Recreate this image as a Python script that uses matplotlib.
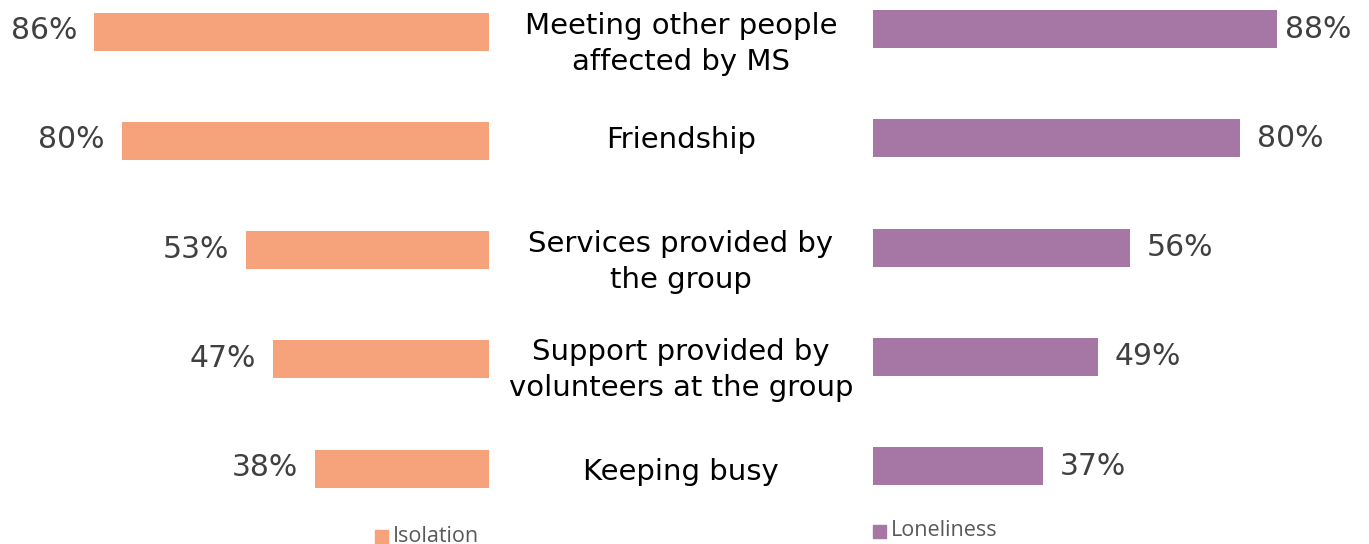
import matplotlib.pyplot as plt
from matplotlib.patches import Rectangle

categories = [
    "Meeting other people\naffected by MS",
    "Friendship",
    "Services provided by\nthe group",
    "Support provided by\nvolunteers at the group",
    "Keeping busy",
]
isolation = [86, 80, 53, 47, 38]
loneliness = [88, 80, 56, 49, 37]
series_names = ["Isolation", "Loneliness"]

ORANGE = "#F6A27A"
PURPLE = "#A677A5"
TEXT = "#404040"

W, H = 1369, 544
DPI = 100
fig = plt.figure(figsize=(W / DPI, H / DPI), dpi=DPI)

row_px = 109.3
bar_h = 38 / row_px
PT = 72 / DPI  # points per pixel


def fx(px):
    return px / W


def add_axes(left_px, right_px, first_center_px):
    ax = fig.add_axes([fx(left_px), 0, fx(right_px - left_px), 1])
    top = -first_center_px / row_px
    bottom = (H - first_center_px) / row_px
    ax.set_ylim(bottom, top)
    ax.axis("off")
    return ax


ypos = list(range(len(categories)))

# Isolation bars grow leftwards from the centre column
ax_l = add_axes(489 - 459, 489, 31.5)
ax_l.set_xlim(100, 0)
ax_l.barh(ypos, isolation, height=bar_h, color=ORANGE)
for y, v in zip(ypos, isolation):
    ax_l.annotate(f"{v}%", (v, y), xytext=(-17 * PT, 1 * PT), textcoords="offset points",
                  ha="right", va="center", fontsize=21.5, color=TEXT,
                  family="DejaVu Sans")

# Loneliness bars grow rightwards
ax_r = add_axes(873, 873 + 459, 29)
ax_r.set_xlim(0, 100)
ax_r.barh(ypos, loneliness, height=bar_h, color=PURPLE)
right_pad_px = [8, 17, 17, 17, 17]
for y, v, pad in zip(ypos, loneliness, right_pad_px):
    ax_r.annotate(f"{v}%", (v, y), xytext=(pad * PT, 0), textcoords="offset points",
                  ha="left", va="center", fontsize=21.5, color=TEXT,
                  family="DejaVu Sans")

# Category labels in the middle column
label_y = [44, 140, 262, 370, 472]
for lab, py in zip(categories, label_y):
    fig.text(fx(681), 1 - py / H, lab, ha="center", va="center",
             fontsize=21, color="black", family="DejaVu Sans",
             linespacing=1.33)

# Legend entries
legend_items = [(375, 536, ORANGE, series_names[0]),
                (873, 531, PURPLE, series_names[1])]
for x0, yc, col, name in legend_items:
    fig.patches.append(Rectangle((fx(x0), 1 - (yc + 6.5) / H), fx(13), 13 / H,
                                 transform=fig.transFigure, color=col))
    fig.text(fx(x0 + 18), 1 - yc / H, name, ha="left", va="center",
             fontsize=15.5, color="#595959", family="Open Sans")

fig.savefig("out.png", dpi=DPI)
